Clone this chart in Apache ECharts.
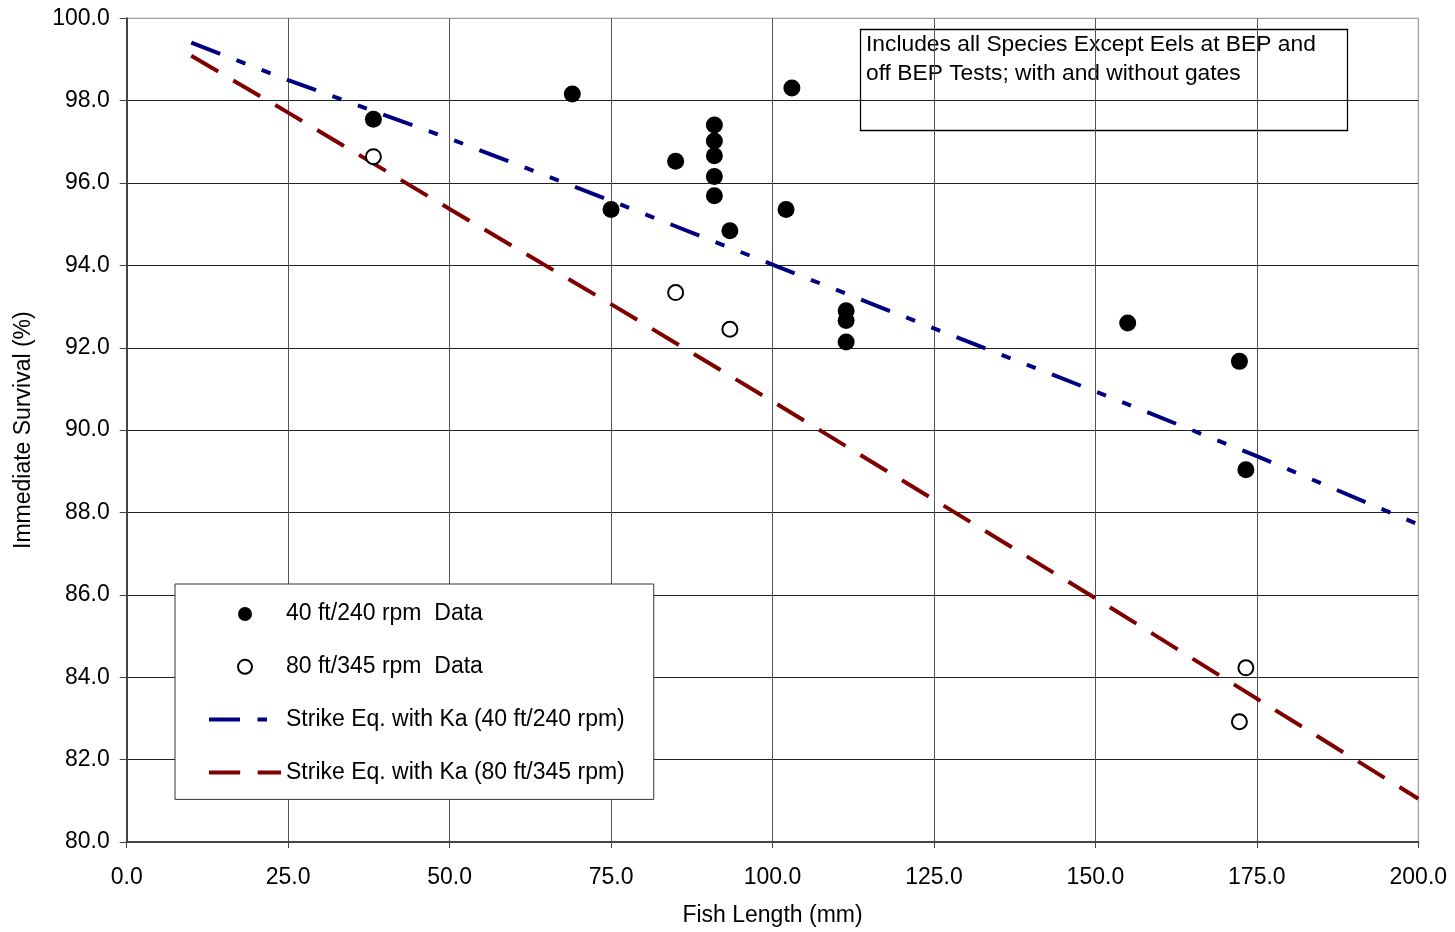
<!DOCTYPE html>
<html>
<head>
<meta charset="utf-8">
<style>
  html, body { margin: 0; padding: 0; background: #fff; }
  #chart { width: 1455px; height: 932px; }
</style>
<script src="https://cdn.jsdelivr.net/npm/echarts@6/dist/echarts.min.js"></script>
</head>
<body>
<div id="chart"></div>
<script>
// Immediate survival vs. fish length: test data and strike-equation curves
const lenFilled  = [38.2, 69.0, 75.0, 85.0, 91.0, 91.0, 91.0, 91.0, 91.0, 93.4, 102.1, 103.0, 111.4, 111.4, 111.4, 155.0, 172.3, 173.3];
const survFilled = [97.55, 98.16, 95.36, 96.53, 97.41, 97.02, 96.66, 96.16, 95.69, 94.84, 95.36, 98.31, 92.90, 92.66, 92.14, 92.60, 91.67, 89.04];

const lenOpen  = [38.2, 85.0, 93.4, 173.3, 172.3];
const survOpen = [96.64, 93.34, 92.45, 84.23, 82.92];

const eqLen = [10, 25, 50, 75, 100, 125, 150, 175, 200];
const eq40  = [99.41, 98.50, 97.08, 95.57, 94.02, 92.47, 90.94, 89.37, 87.71];
const eq80  = [99.09, 97.71, 95.37, 93.06, 90.70, 88.31, 85.92, 83.48, 81.05];

const seriesNames = [
  '40 ft/240 rpm  Data',
  '80 ft/345 rpm  Data',
  'Strike Eq. with Ka (40 ft/240 rpm)',
  'Strike Eq. with Ka (80 ft/345 rpm)'
];
const noteLines = [
  'Includes all Species Except Eels at BEP and',
  'off BEP Tests; with and without gates'
];

const FONT = "'Liberation Sans', Arial, Helvetica, sans-serif";
const zip = (xs, ys) => xs.map((x, i) => [x, ys[i]]);

// line entries in the legend show only the dashed stroke, no marker
const lineOnlyIcon = { color: 'transparent', borderWidth: 0, opacity: 0 };

const chart = echarts.init(document.getElementById('chart'), null, { renderer: 'canvas' });

chart.setOption({
  backgroundColor: '#fff',
  animation: false,
  textStyle: { fontFamily: FONT },
  grid: {
    left: 126.7, right: 36.7, top: 18.3, bottom: 89,
    show: true, borderColor: '#888', borderWidth: 1, backgroundColor: 'transparent'
  },
  xAxis: {
    type: 'value', min: 0, max: 200, interval: 25,
    name: 'Fish Length (mm)', nameLocation: 'middle', nameGap: 62,
    nameTextStyle: { fontSize: 23, color: '#000', fontFamily: FONT },
    axisLine: { show: true, lineStyle: { color: '#444', width: 2 } },
    axisTick: { show: true, inside: false, length: 6, lineStyle: { color: '#444', width: 1 } },
    axisLabel: { formatter: v => v.toFixed(1), fontSize: 23, color: '#000', margin: 24, fontFamily: FONT },
    splitLine: { show: true, showMinLine: false, showMaxLine: false, lineStyle: { color: '#555', width: 1 } }
  },
  yAxis: {
    type: 'value', min: 80, max: 100, interval: 2,
    name: 'Immediate Survival (%)', nameLocation: 'middle', nameGap: 92,
    nameTextStyle: { fontSize: 23, color: '#000', fontFamily: FONT },
    axisLine: { show: true, lineStyle: { color: '#444', width: 2 } },
    axisTick: { show: true, inside: false, length: 7, lineStyle: { color: '#444', width: 1 } },
    axisLabel: { formatter: v => v.toFixed(1), fontSize: 23, color: '#000', margin: 17, fontFamily: FONT },
    splitLine: { show: true, showMinLine: false, showMaxLine: false, lineStyle: { color: '#222', width: 1 } }
  },
  legend: {
    orient: 'vertical',
    left: 175, top: 584,
    data: [
      { name: seriesNames[0] },
      { name: seriesNames[1] },
      { name: seriesNames[2], itemStyle: lineOnlyIcon },
      { name: seriesNames[3], itemStyle: lineOnlyIcon }
    ],
    selectedMode: false,
    itemWidth: 72, itemHeight: 14, itemGap: 26.8,
    padding: [17, 29, 14, 32],
    backgroundColor: '#fff',
    borderColor: '#333', borderWidth: 1,
    textStyle: { fontSize: 23, color: '#000', lineHeight: 26, fontFamily: FONT },
    lineStyle: { width: 4 },
    z: 10
  },
  series: [
    {
      name: seriesNames[0], type: 'scatter',
      data: zip(lenFilled, survFilled),
      symbol: 'circle', symbolSize: 17,
      itemStyle: { color: '#000', opacity: 1 }, z: 5
    },
    {
      name: seriesNames[1], type: 'scatter',
      data: zip(lenOpen, survOpen),
      symbol: 'circle', symbolSize: 15,
      itemStyle: { color: '#fff', borderColor: '#000', borderWidth: 2, opacity: 1 }, z: 5
    },
    {
      name: seriesNames[2], type: 'line',
      data: zip(eqLen, eq40),
      symbol: 'none', smooth: false,
      lineStyle: { color: '#000080', width: 4, type: [31, 17.5, 9.5, 17.5, 9.5, 17.5], cap: 'butt' },
      itemStyle: { color: '#000080' }, z: 3
    },
    {
      name: seriesNames[3], type: 'line',
      data: zip(eqLen, eq80),
      symbol: 'none', smooth: false,
      lineStyle: { color: '#800000', width: 4, type: [31.2, 17.5], cap: 'butt' },
      itemStyle: { color: '#800000' }, z: 3
    }
  ],
  graphic: [
    {
      type: 'group', z: 20,
      children: [
        {
          type: 'rect',
          shape: { x: 860.5, y: 29.5, width: 487, height: 101 },
          style: { fill: '#fff', stroke: '#000', lineWidth: 1.3 }
        },
        {
          type: 'text',
          x: 866, y: 30,
          style: {
            text: noteLines.join('\n'),
            font: '22.8px ' + FONT,
            lineHeight: 29,
            fill: '#000',
            align: 'left', verticalAlign: 'top'
          }
        }
      ]
    }
  ]
});
</script>
</body>
</html>
